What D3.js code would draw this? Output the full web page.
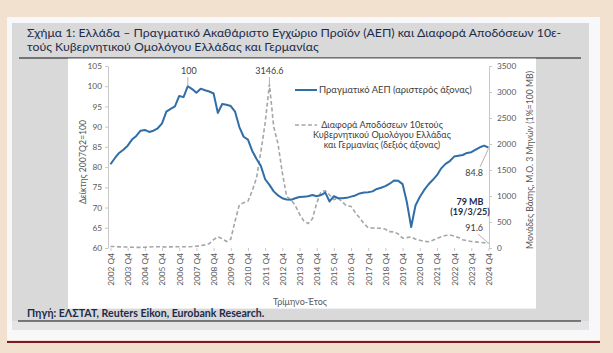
<!DOCTYPE html>
<html>
<head>
<meta charset="utf-8">
<script src="https://cdn.jsdelivr.net/npm/d3@7"></script>
<style>
  body { margin: 0; }
  svg { display: block; font-family: "Lato", "Open Sans", sans-serif; }
</style>
</head>
<body>
<svg id="chart" width="613" height="353"></svg>
<script>
// quarters 2002 Q4 .. 2024 Q4
var quarters = []
for (var yr = 2002; yr <= 2024; yr++) {
  for (var q = 1; q <= 4; q++) {
    if (yr == 2002 && q < 4) continue
    quarters.push(yr + " Q" + q)
  }
}

var tickLabels = ["2002 Q4","2003 Q4","2004 Q4","2005 Q4","2006 Q4","2007 Q4","2008 Q4","2009 Q4",
  "2010 Q4","2011 Q4","2012 Q4","2013 Q4","2014 Q4","2015 Q4","2016 Q4","2017 Q4","2018 Q4",
  "2019 Q4","2020 Q4","2021 Q4","2022 Q4","2023 Q4","2024 Q4"]

// real GDP index, 2007Q2 = 100 (left axis)
var gdp = [80.7, 82.2, 83.5, 84.3, 85.3, 86.8, 87.7, 89.0, 89.2, 88.7,
  89.0, 89.6, 90.8, 93.7, 94.4, 95.0, 97.6, 97.3, 100.0, 99.3,
  98.4, 99.4, 99.0, 98.7, 98.2, 93.4, 95.6, 95.4, 95.1, 93.7,
  89.9, 87.5, 86.8, 84.0, 82.0, 80.3, 77.0, 75.6, 74.0, 73.0,
  72.3, 72.0, 71.9, 72.3, 72.6, 72.7, 72.8, 73.1, 72.8, 73.1,
  73.7, 71.5, 72.8, 72.3, 72.3, 72.4, 72.7, 73.0, 73.5, 73.7,
  73.8, 74.0, 74.6, 74.9, 75.3, 75.9, 76.7, 76.6, 75.8, 71.3,
  65.2, 70.5, 72.6, 74.3, 75.7, 76.8, 78.0, 79.7, 80.8, 81.5,
  82.6, 82.8, 83.0, 83.5, 83.7, 84.3, 84.9, 85.3, 84.8]

// 10y GR-DE spread, bp, 3m avg (right axis)
var spread = [30, 28, 22, 20, 18, 15, 12, 12, 15, 20,
  25, 25, 22, 20, 22, 25, 25, 25, 25, 28,
  35, 45, 60, 85, 160, 215, 180, 125, 170, 520,
  830, 870, 900, 1100, 1350, 1850, 2400, 3146.6, 2330, 2000,
  1450, 990, 930, 820, 650, 520, 470, 560, 860, 1080,
  1100, 1020, 930, 960, 880, 810, 800, 680, 580, 470,
  390, 385, 380, 380, 360, 315, 310, 270, 190, 200,
  215, 170, 150, 130, 120, 150, 185, 215, 240, 250,
  230, 200, 160, 140, 125, 118, 110, 100, 91.6]

var leftTicks = [60, 65, 70, 75, 80, 85, 90, 95, 100, 105]
var rightTicks = [0, 500, 1000, 1500, 2000, 2500, 3000, 3500]

var svg = d3.select("#chart")
var navy = "#1d2b4a"

// page background + frames
svg.append("rect").attr("width", 613).attr("height", 353).attr("fill", "#f3e1d0")
svg.append("rect").attr("x", 7).attr("y", 17).attr("width", 593).attr("height", 323).attr("fill", "#f8f8fa")
svg.append("rect").attr("x", 12).attr("y", 23).attr("width", 577).attr("height", 307).attr("fill", "#e4e4e4")
svg.append("rect").attr("x", 12).attr("y", 23).attr("width", 577).attr("height", 298).attr("fill", "#d9d9d9")
svg.append("line").attr("x1", 7).attr("x2", 600).attr("y1", 342).attr("y2", 342)
  .attr("stroke", "#7c1a2a").attr("stroke-width", 2.2)

// title
var title = svg.append("text").attr("fill", navy).attr("font-size", 12.3)
title.append("tspan").attr("x", 27).attr("y", 37)
  .text("Σχήμα 1: Ελλάδα – Πραγματικό Ακαθάριστο Εγχώριο Προϊόν (ΑΕΠ) και Διαφορά Αποδόσεων 10ε-")
title.append("tspan").attr("x", 27).attr("y", 51)
  .text("τούς Κυβερνητικού Ομολόγου Ελλάδας και Γερμανίας")

svg.append("line").attr("x1", 19).attr("x2", 581).attr("y1", 58).attr("y2", 58)
  .attr("stroke", "#111").attr("stroke-width", 1.2)

// white chart area
svg.append("rect").attr("x", 68).attr("y", 58.6).attr("width", 468).attr("height", 250).attr("fill", "#fff")

// source
svg.append("text").attr("x", 27).attr("y", 317).attr("fill", navy).attr("font-size", 10.6)
  .attr("font-weight", "bold").text("Πηγή: ΕΛΣΤΑΤ, Reuters Eikon, Eurobank Research.")
svg.append("line").attr("x1", 18).attr("x2", 581).attr("y1", 321).attr("y2", 321)
  .attr("stroke", "#111").attr("stroke-width", 1.2)

// scales
var x = d3.scalePoint().domain(quarters).range([110.5, 488.5])
var yL = d3.scaleLinear().domain([60, 105]).range([248, 66])
var yR = d3.scaleLinear().domain([0, 3500]).range([248, 66])

var grey = "#595959"

var gL = svg.append("g").attr("transform", "translate(108,0)")
  .call(d3.axisLeft(yL).tickValues(leftTicks).tickSize(3).tickPadding(3).tickSizeOuter(0))
var gR = svg.append("g").attr("transform", "translate(489,0)")
  .call(d3.axisRight(yR).tickValues(rightTicks).tickFormat(d3.format("d"))
    .tickSize(3).tickPadding(5).tickSizeOuter(0))
var gB = svg.append("g").attr("transform", "translate(0,248)")
  .call(d3.axisBottom(x).tickValues(tickLabels).tickSize(3).tickSizeOuter(0))

;[gL, gR, gB].forEach(function(g) {
  g.select(".domain").attr("stroke", "#c8c8c8")
  g.selectAll(".tick line").attr("stroke", "#c8c8c8")
  g.selectAll(".tick text").attr("fill", grey).attr("font-size", 8.3).attr("font-family", "Lato, sans-serif")
})
gB.select(".domain").remove()
gB.selectAll(".tick text")
  .attr("transform", "rotate(-90)")
  .attr("text-anchor", "end")
  .attr("x", -5).attr("y", 0).attr("dy", "0.35em")

// axis titles
svg.append("text").attr("transform", "translate(86,162) rotate(-90)")
  .attr("text-anchor", "middle").attr("fill", grey).attr("font-size", 8.7)
  .text("Δείκτης 2007Q2=100")
svg.append("text").attr("transform", "translate(533,160) rotate(-90)")
  .attr("text-anchor", "middle").attr("fill", grey).attr("font-size", 8.7)
  .text("Μονάδες Βάσης, Μ.Ο. 3 Μηνών (1%=100 ΜΒ)")
svg.append("text").attr("x", 300).attr("y", 305).attr("text-anchor", "middle")
  .attr("fill", grey).attr("font-size", 9).text("Τρίμηνο-Έτος")

// series
var spreadLine = d3.line().x(function(d, i) { return x(quarters[i]) }).y(function(d) { return yR(d) })
var gdpLine = d3.line().x(function(d, i) { return x(quarters[i]) }).y(function(d) { return yL(d) })

svg.append("path").datum(spread).attr("d", spreadLine).attr("fill", "none")
  .attr("stroke", "#a6a6a6").attr("stroke-width", 1.6).attr("stroke-dasharray", "4,2.5")
svg.append("path").datum(gdp).attr("d", gdpLine).attr("fill", "none")
  .attr("stroke", "#2f6ea6").attr("stroke-width", 2).attr("stroke-linejoin", "round")

// legend
svg.append("line").attr("x1", 295).attr("x2", 317).attr("y1", 90).attr("y2", 90)
  .attr("stroke", "#2f6ea6").attr("stroke-width", 2)
svg.append("text").attr("x", 319).attr("y", 93).attr("fill", "#404040").attr("font-size", 9.4)
  .text("Πραγματικό ΑΕΠ (αριστερός άξονας)")
svg.append("line").attr("x1", 295).attr("x2", 317).attr("y1", 125).attr("y2", 125)
  .attr("stroke", "#a6a6a6").attr("stroke-width", 1.6).attr("stroke-dasharray", "4,2.5")
var leg2 = svg.append("text").attr("fill", "#404040").attr("font-size", 9.1).attr("text-anchor", "middle")
;["Διαφορά Αποδόσεων 10ετούς", "Κυβερνητικού Ομολόγου Ελλάδας", "και Γερμανίας (δεξιός άξονας)"]
  .forEach(function(s, i) {
    leg2.append("tspan").attr("x", 382).attr("y", 128 + i * 9.8).text(s)
  })

// annotations
var iPeak = gdp.indexOf(100)
var iMax = spread.indexOf(d3.max(spread))
var last = quarters.length - 1

svg.append("text").attr("x", x(quarters[iPeak]) + 1).attr("y", 74).attr("text-anchor", "middle")
  .attr("fill", "#404040").attr("font-size", 9).text("100")
svg.append("line").attr("x1", x(quarters[iPeak])).attr("x2", x(quarters[iPeak]))
  .attr("y1", 77).attr("y2", yL(100) - 1).attr("stroke", "#a0a0a0").attr("stroke-width", 0.8)

svg.append("text").attr("x", x(quarters[iMax])).attr("y", 74).attr("text-anchor", "middle")
  .attr("fill", "#404040").attr("font-size", 9).text("3146.6")
svg.append("line").attr("x1", x(quarters[iMax])).attr("x2", x(quarters[iMax]))
  .attr("y1", 77).attr("y2", yR(3146.6)).attr("stroke", "#a0a0a0").attr("stroke-width", 0.8)

svg.append("text").attr("x", 483).attr("y", 176).attr("text-anchor", "end")
  .attr("fill", "#404040").attr("font-size", 9).text("84.8")
svg.append("line").attr("x1", 480).attr("y1", 167).attr("x2", x(quarters[last])).attr("y2", yL(gdp[last]) + 1)
  .attr("stroke", "#a0a0a0").attr("stroke-width", 0.8)

var ann = svg.append("text").attr("fill", navy).attr("font-size", 9).attr("font-weight", "bold")
  .attr("text-anchor", "middle")
ann.append("tspan").attr("x", 470).attr("y", 205).text("79 MB")
ann.append("tspan").attr("x", 470).attr("y", 215).text("(19/3/25)")

svg.append("text").attr("x", 483).attr("y", 231).attr("text-anchor", "end")
  .attr("fill", "#404040").attr("font-size", 9).text("91.6")
svg.append("line").attr("x1", 478).attr("y1", 234).attr("x2", x(quarters[last])).attr("y2", yR(spread[last]))
  .attr("stroke", "#a0a0a0").attr("stroke-width", 0.8)
</script>
</body>
</html>
